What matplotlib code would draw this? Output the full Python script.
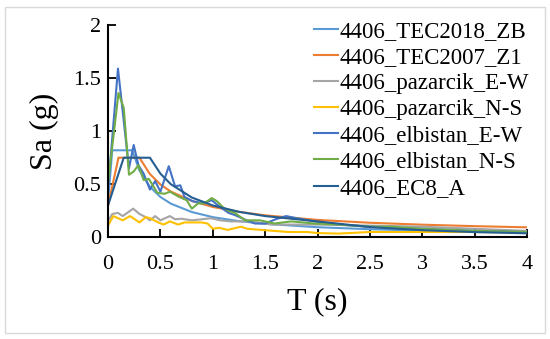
import matplotlib
matplotlib.use("Agg")
import matplotlib.pyplot as plt
from matplotlib.patches import Rectangle

plt.rcParams["font.family"] = ["Liberation Serif", "DejaVu Serif"]

# 設計スペクトル (TEC2018 ZB, TEC2007 Z1, EC8 A)
t_tec2018 = [0, 0.04, 0.23, 0.3, 0.4, 0.5, 0.6, 0.8, 1.0, 1.25, 1.5, 2.0, 2.5, 3.0, 3.5, 4.0]
sa_tec2018 = [0.33, 0.82, 0.82, 0.63, 0.475, 0.38, 0.317, 0.238, 0.19, 0.152, 0.127, 0.095, 0.076, 0.063, 0.054, 0.0475]

t_tec2007 = [0, 0.1, 0.3, 0.4, 0.5, 0.6, 0.8, 1.0, 1.25, 1.5, 2.0, 2.5, 3.0, 3.5, 4.0]
sa_tec2007 = [0.3, 0.75, 0.75, 0.596, 0.498, 0.431, 0.342, 0.286, 0.24, 0.207, 0.164, 0.137, 0.119, 0.105, 0.094]

t_ec8 = [0, 0.15, 0.4, 0.5, 0.6, 0.8, 1.0, 1.25, 1.5, 2.0, 2.5, 3.0, 3.5, 4.0]
sa_ec8 = [0.3, 0.75, 0.75, 0.6, 0.5, 0.375, 0.3, 0.24, 0.2, 0.15, 0.096, 0.067, 0.049, 0.0375]

# 記録スペクトル
t_paz_ew = [0, 0.04, 0.095, 0.14, 0.24, 0.3, 0.36, 0.4, 0.45, 0.5, 0.59, 0.64, 0.7, 0.8,
            0.9, 0.98, 1.07, 1.17, 1.3, 1.42, 1.57, 1.8, 2.0, 2.5, 3.0, 3.5, 4.0]
sa_paz_ew = [0.15, 0.22, 0.23, 0.2, 0.27, 0.22, 0.19, 0.16, 0.2, 0.16, 0.2, 0.17, 0.175, 0.16,
             0.17, 0.18, 0.16, 0.15, 0.15, 0.14, 0.12, 0.12, 0.12, 0.11, 0.1, 0.08, 0.06]

t_paz_ns = [0, 0.05, 0.095, 0.14, 0.21, 0.3, 0.36, 0.4, 0.48, 0.53, 0.59, 0.67, 0.73, 0.89,
            0.95, 1.0, 1.06, 1.14, 1.27, 1.33, 1.46, 1.59, 1.72, 1.9, 2.0, 2.2, 2.5, 3.0, 3.5, 4.0]
sa_paz_ns = [0.11, 0.2, 0.18, 0.16, 0.2, 0.14, 0.19, 0.18, 0.14, 0.12, 0.15, 0.12, 0.14, 0.14,
             0.13, 0.08, 0.09, 0.07, 0.1, 0.08, 0.07, 0.06, 0.05, 0.05, 0.04, 0.035, 0.05, 0.05, 0.05, 0.045]

t_elb_ew = [0, 0.095, 0.2, 0.245, 0.29, 0.34, 0.4, 0.45, 0.5, 0.58, 0.64, 0.69, 0.73, 0.81,
            0.91, 0.99, 1.05, 1.15, 1.21, 1.3, 1.4, 1.5, 1.6, 1.7, 1.8, 1.97, 2.2, 2.5, 2.7, 3.0, 3.5, 4.0]
sa_elb_ew = [0.45, 1.59, 0.65, 0.87, 0.68, 0.6, 0.45, 0.53, 0.43, 0.67, 0.48, 0.49, 0.38, 0.34,
             0.32, 0.35, 0.3, 0.23, 0.21, 0.17, 0.13, 0.13, 0.17, 0.2, 0.18, 0.15, 0.12, 0.1, 0.09, 0.08, 0.06, 0.05]

t_elb_ns = [0, 0.1, 0.15, 0.2, 0.245, 0.29, 0.34, 0.39, 0.47, 0.54, 0.59, 0.68, 0.75, 0.8,
            0.86, 0.92, 0.99, 1.04, 1.1, 1.15, 1.21, 1.31, 1.45, 1.59, 1.75, 1.97, 2.2, 2.5, 2.7, 3.0, 3.5, 4.0]
sa_elb_ns = [0.51, 1.36, 1.22, 0.59, 0.62, 0.68, 0.54, 0.55, 0.42, 0.41, 0.43, 0.38, 0.35, 0.27,
             0.32, 0.32, 0.37, 0.34, 0.28, 0.25, 0.23, 0.16, 0.16, 0.13, 0.15, 0.13, 0.12, 0.1, 0.1, 0.08, 0.06, 0.05]

series = [
    ("4406_TEC2018_ZB", t_tec2018, sa_tec2018, "#5B9BD5"),
    ("4406_TEC2007_Z1", t_tec2007, sa_tec2007, "#ED7D31"),
    ("4406_pazarcik_E-W", t_paz_ew, sa_paz_ew, "#A5A5A5"),
    ("4406_pazarcik_N-S", t_paz_ns, sa_paz_ns, "#FFC000"),
    ("4406_elbistan_E-W", t_elb_ew, sa_elb_ew, "#4472C4"),
    ("4406_elbistan_N-S", t_elb_ns, sa_elb_ns, "#70AD47"),
    ("4406_EC8_A", t_ec8, sa_ec8, "#255E91"),
]

x_ticks = [0, 0.5, 1, 1.5, 2, 2.5, 3, 3.5, 4]
x_labels = ["0", "0.5", "1", "1.5", "2", "2.5", "3", "3.5", "4"]
y_ticks = [0, 0.5, 1, 1.5, 2]
y_labels = ["0", "0.5", "1", "1.5", "2"]

fig = plt.figure(figsize=(5.5, 3.39), dpi=100)
ax = fig.add_axes([0.1964, 0.30, 0.762, 0.626])

for name, t, sa, color in series:
    ax.plot(t, sa, color=color, lw=1.5, label=name)

ax.set_xlim(0, 4)
ax.set_ylim(0, 2)
ax.set_xticks(x_ticks)
ax.set_xticklabels(x_labels)
ax.set_yticks(y_ticks)
ax.set_yticklabels(y_labels)
ax.spines["top"].set_visible(False)
ax.spines["right"].set_visible(False)
for side in ("left", "bottom"):
    ax.spines[side].set_linewidth(1.5)
ax.tick_params(axis="x", direction="in", length=6, width=1.3, labelsize=16, pad=13)
ax.tick_params(axis="y", direction="in", length=6, width=1.3, labelsize=16, pad=5)

ax.set_xlabel("T (s)", fontsize=23, labelpad=9)
ax.set_ylabel("Sa (g)", fontsize=23, labelpad=10)

ax.legend(
    loc="upper right",
    bbox_to_anchor=(0.962, 0.938),
    bbox_transform=fig.transFigure,
    frameon=False,
    fontsize=16.5,
    handlelength=1.05,
    handletextpad=0.05,
    labelspacing=0.22,
    borderaxespad=0,
    borderpad=0,
)

# チャート外枠 (Excel 風)
fig.patches.append(
    Rectangle((0.009, 0.018), 0.981, 0.962, transform=fig.transFigure,
              fill=False, edgecolor="#D9D9D9", lw=1.0)
)

fig.savefig("out.png", dpi=100)
plt.close(fig)
